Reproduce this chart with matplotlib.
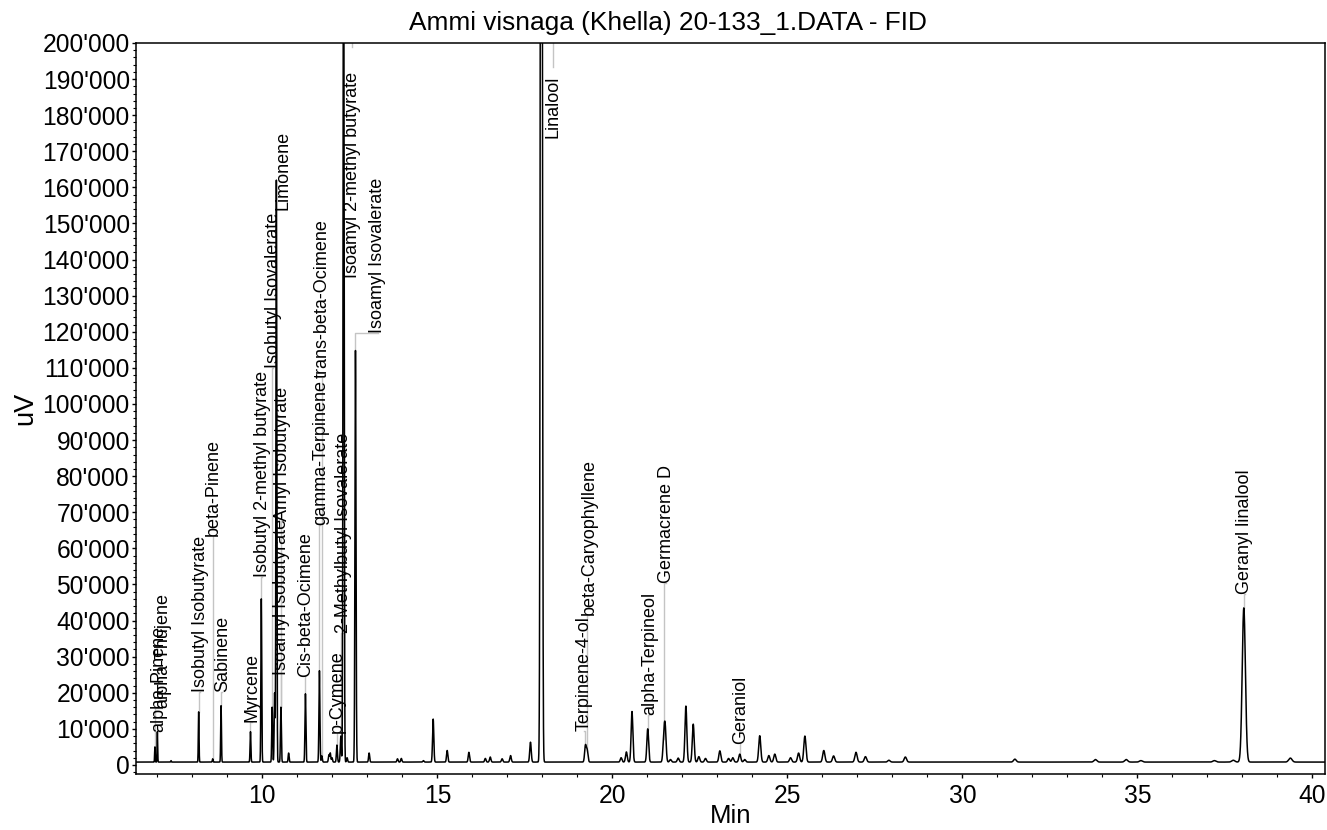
import matplotlib
matplotlib.use("Agg")
import matplotlib.pyplot as plt
from matplotlib.ticker import MultipleLocator, FuncFormatter
import numpy as np

plt.rcParams["font.family"] = ["Liberation Sans", "DejaVu Sans"]

# Peaks: retention time (min) and apex height (uV)
peak_times = [6.93, 7.00, 7.39, 8.18, 8.58, 8.82, 9.66, 9.97, 10.28, 10.35,
              10.40, 10.53, 10.75, 11.23, 11.63, 11.70, 11.90, 11.94, 11.99, 12.13,
              12.24, 12.32, 12.42, 12.66, 13.05, 13.86, 13.97, 14.60, 14.88, 15.28,
              15.90, 16.37, 16.51, 16.85, 17.09, 17.66, 17.97, 19.23, 19.28, 20.25,
              20.40, 20.56, 21.01, 21.47, 21.51, 21.66, 21.88, 22.10, 22.31, 22.47,
              22.66, 23.07, 23.32, 23.44, 23.64, 23.78, 24.21, 24.47, 24.64, 25.09,
              25.32, 25.50, 26.04, 26.32, 26.96, 27.23, 27.90, 28.37, 31.50, 33.80,
              34.68, 35.10, 37.20, 37.74, 38.04, 39.37]
peak_heights = [5000, 9200, 1200, 14700, 1700, 16400, 9200, 46000, 16000, 19900,
                162000, 16000, 3300, 19700, 26100, 2500, 2800, 3300, 2000, 5500,
                8000, 260000, 2000, 114800, 3300, 1700, 1800, 1200, 12700, 4000,
                3500, 1800, 2200, 1700, 2600, 6300, 600000, 5300, 4000, 2000,
                3600, 14800, 10000, 7200, 9500, 1500, 1900, 16300, 11300, 2300,
                1800, 3900, 1800, 2000, 3000, 1500, 8100, 2600, 3000, 2000,
                3300, 8000, 4000, 2500, 3500, 2300, 1300, 2200, 1600, 1500,
                1500, 1200, 1200, 1300, 43500, 1900]
baseline = 800

# Named peaks: label text and the retention time of the peak it marks
label_names = ["alpha-Pinene", "alpha-Thujene", "Isobutyl Isobutyrate", "beta-Pinene",
               "Sabinene", "Myrcene", "Isobutyl 2-methyl butyrate", "Isobutyl Isovalerate",
               "Limonene", "Isoamyl Isobutyrate", "Amyl Isobutyrate", "Cis-beta-Ocimene",
               "gamma-Terpinene", "trans-beta-Ocimene", "p-Cymene", "2-Methylbutyl Isovalerate",
               "Isoamyl 2-methyl butyrate", "Isoamyl Isovalerate", "Linalool", "Terpinene-4-ol",
               "beta-Caryophyllene", "alpha-Terpineol", "Germacrene D", "Geraniol",
               "Geranyl linalool"]
label_peaks = [7.00, 6.93, 8.18, 8.58, 8.82, 9.66, 9.97, 10.28, 10.40, 10.53, 10.53,
               11.23, 11.63, 11.70, 12.13, 12.24, 12.32, 12.66, 17.97, 19.23, 19.28,
               21.01, 21.47, 23.64, 38.04]

# where each label sits (x in min, bottom of text in uV), as the software stacked them
label_x = [7.03, 7.14, 8.23, 8.60, 8.86, 9.69, 10.00, 10.31, 10.60, 10.54, 10.57,
           11.23, 11.66, 11.71, 12.14, 12.31, 12.57, 13.29, 18.31, 19.20, 19.34,
           21.06, 21.54, 23.66, 38.06]
label_y = [9200, 15800, 20200, 63400, 20200, 11900, 52100, 110000, 153700, 24900, 67500,
           24400, 66500, 107200, 8900, 36600, 134900, 119700, 173700, 9400, 41600,
           13900, 50400, 5800, 47400]
# off-scale peaks only show a short leader from the top frame
top_leaders = {"Linalool": 193400, "Isoamyl 2-methyl butyrate": 198800}

t = np.arange(6.3, 40.5, 0.002)
signal = np.full_like(t, baseline, dtype=float)
for rt, h in zip(peak_times, peak_heights):
    sigma = 0.0012 * rt
    signal += (h - baseline) * np.exp(-0.5 * ((t - rt) / sigma) ** 2)

fig = plt.figure(figsize=(13.27, 8.30), dpi=100)
ax = fig.add_axes([0.1025, 0.0675, 0.896, 0.8807])
ax.plot(t, signal, color="black", lw=1.1, zorder=3)

height_of = dict(zip(peak_times, peak_heights))
leader_color = "#c4c4c4"
for name, pt, lx, ly in zip(label_names, label_peaks, label_x, label_y):
    ph = height_of[pt]
    if name in top_leaders:
        ax.plot([lx, lx], [200000, top_leaders[name]], color=leader_color, lw=1, zorder=2)
    elif ph < ly:
        ax.plot([pt, pt, lx], [ph, ly, ly], color=leader_color, lw=1, zorder=2)
    ax.text(lx, ly, name, rotation=90, ha="center", va="bottom",
            fontsize=13, zorder=4)

ax.set_xlim(6.39, 40.36)
ax.set_ylim(-2500, 200000)
ax.xaxis.set_major_locator(MultipleLocator(5))
ax.xaxis.set_minor_locator(MultipleLocator(1))
ax.yaxis.set_major_locator(MultipleLocator(10000))
ax.yaxis.set_minor_locator(MultipleLocator(2000))
ax.yaxis.set_major_formatter(FuncFormatter(lambda v, p: f"{int(round(v)):,}".replace(",", "'")))
ax.tick_params(axis="both", which="major", direction="out", length=3, width=1,
               labelsize=17.7)
ax.tick_params(axis="both", which="minor", direction="out", length=2, width=0.8)
ax.tick_params(axis="y", pad=1.5)
ax.tick_params(axis="x", pad=4)
for s in ax.spines.values():
    s.set_linewidth(1.1)

fig.text(0.503, 0.972, "Ammi visnaga (Khella) 20-133_1.DATA - FID",
         fontsize=18.9, ha="center", va="center")
ax.set_xlabel("Min", fontsize=18.5, labelpad=-3)
ax.set_ylabel("uV", fontsize=19.5, labelpad=3)

fig.savefig("out.png", dpi=100)
